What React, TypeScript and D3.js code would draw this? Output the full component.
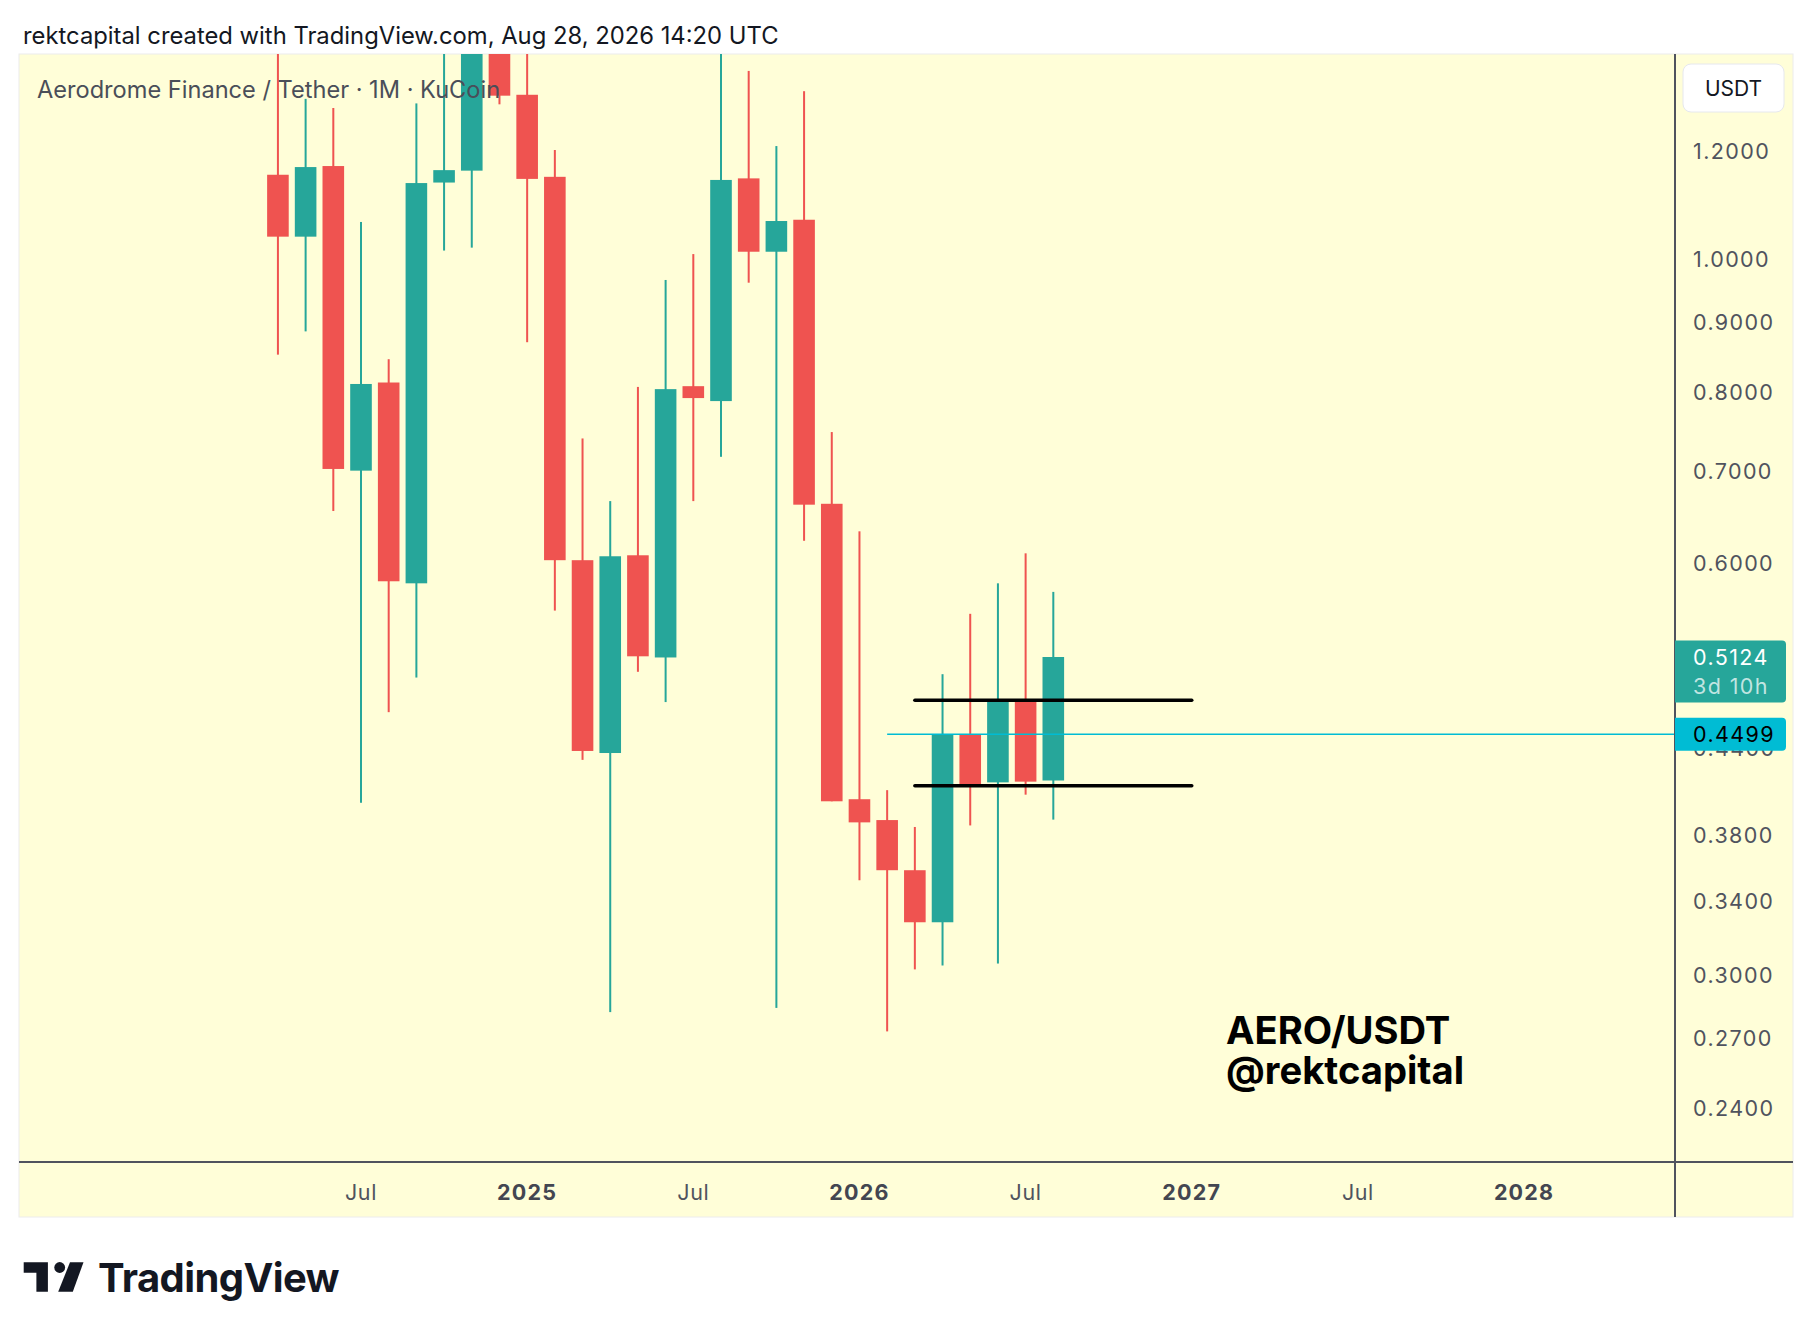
import React from "react";
import * as d3 from "d3";

// ---- DATA (monthly candles, AERO/USDT, KuCoin) ----
const months = [
  "2024-04", "2024-05", "2024-06", "2024-07", "2024-08", "2024-09", "2024-10", "2024-11", "2024-12",
  "2025-01", "2025-02", "2025-03", "2025-04", "2025-05", "2025-06", "2025-07", "2025-08", "2025-09",
  "2025-10", "2025-11", "2025-12", "2026-01", "2026-02", "2026-03", "2026-04", "2026-05", "2026-06",
  "2026-07", "2026-08",
];
const opens = [
  1.153, 1.039, 1.17, 0.701, 0.813, 0.58, 1.138, 1.161, 1.55,
  1.319, 1.149, 0.603, 0.436, 0.608, 0.512, 0.808, 0.788, 1.146,
  1.013, 1.069, 0.663, 0.4034, 0.3895, 0.358, 0.328, 0.4499, 0.415,
  0.4765, 0.4163,
];
const highs = [
  1.8, 1.31, 1.29, 1.065, 0.8455, 1.3, 1.5, 1.75, 2.0,
  1.6, 1.202, 0.74, 0.666, 0.807, 0.966, 1.009, 1.48, 1.373,
  1.21, 1.327, 0.748, 0.633, 0.4096, 0.385, 0.4978, 0.551, 0.58,
  0.61, 0.5717,
];
const lows = [
  0.852, 0.886, 0.655, 0.401, 0.467, 0.495, 1.015, 1.02, 1.298,
  0.87, 0.554, 0.431, 0.282, 0.4998, 0.475, 0.666, 0.7175, 0.9616,
  0.284, 0.623, 0.402, 0.352, 0.273, 0.303, 0.305, 0.386, 0.306,
  0.4065, 0.3898,
];
const closes = [
  1.039, 1.168, 0.703, 0.811, 0.582, 1.137, 1.162, 1.55, 1.317,
  1.145, 0.603, 0.4375, 0.607, 0.513, 0.804, 0.792, 1.143, 1.013,
  1.0667, 0.662, 0.402, 0.388, 0.358, 0.328, 0.4497, 0.4127, 0.4765,
  0.4155, 0.5124,
];

const priceTicks = [1.2, 1.0, 0.9, 0.8, 0.7, 0.6, 0.44, 0.38, 0.34, 0.3, 0.27, 0.24];
const timeTickMonths = ["2024-07", "2025-01", "2025-07", "2026-01", "2026-07", "2027-01", "2027-07", "2028-01"];
const timeTickLabels = ["Jul", "2025", "Jul", "2026", "Jul", "2027", "Jul", "2028"];
const timeTickBold = [false, true, false, true, false, true, false, true];

const rangeLevels = [0.4765, 0.4127];
const rangeStart = "2026-03";
const rangeEnd = "2027-01";
const rayLevel = 0.4499;
const rayStart = "2026-02";
const lastPrice = 0.5124;
const countdown = "3d 10h";

const headerText = "rektcapital created with TradingView.com, Aug 28, 2026 14:20 UTC";
const titleText = "Aerodrome Finance / Tether · 1M · KuCoin";

const UP = "#26a69a";
const DOWN = "#ef5350";
const BG = "#fffed8";
const FONT = 'Inter, "Noto Sans", Roboto, sans-serif';

const barIndex = (m: string) => {
  const [yy, mm] = m.split("-").map(Number);
  return (yy - 2024) * 12 + (mm - 4);
};

export default function App() {
  const W = 1814;
  const H = 1338;
  const left = 19;
  const right = 1675;
  const top = 54;
  const bottom = 1162;
  const bgRight = 1793;
  const bgBottom = 1217;

  const x = d3.scaleLinear().domain([-9.35, 50.45]).range([left, right]);
  const y = d3.scaleLog().domain([1.2, 0.24]).range([151, 1108]);
  const step = x(1) - x(0);
  const bodyW = step * 0.78;

  const fmt = d3.format(".4f");

  const candles = months.map((m, i) => ({
    i: barIndex(m),
    o: opens[i],
    h: highs[i],
    l: lows[i],
    c: closes[i],
  }));

  return (
    <svg
      width={W}
      height={H}
      viewBox={`0 0 ${W} ${H}`}
      style={{ position: "absolute", left: 0, top: 0, display: "block", background: "#ffffff" }}
      fontFamily={FONT}
    >
      <defs>
        <clipPath id="plotClip">
          <rect x={left} y={top} width={right - left} height={bottom - top} />
        </clipPath>
      </defs>
      <rect x={0} y={0} width={W} height={H} fill="#ffffff" />
      {/* header */}
      <text x={23} y={35} fontSize={23.8} fill="#131722" dominantBaseline="central">
        {headerText}
      </text>

      {/* chart background */}
      <rect x={left} y={top} width={bgRight - left} height={bgBottom - top} fill={BG} stroke="#ececec" strokeWidth={1} />

      {/* candles */}
      <g clipPath="url(#plotClip)">
        {candles.map((d, k) => {
          const cx = x(d.i);
          const up = d.c >= d.o;
          const col = up ? UP : DOWN;
          const yTop = y(Math.max(d.o, d.c));
          const yBot = y(Math.min(d.o, d.c));
          return (
            <g key={k}>
              <rect x={cx - 1} y={y(d.h)} width={2} height={y(d.l) - y(d.h)} fill={col} />
              <rect x={cx - bodyW / 2} y={yTop} width={bodyW} height={Math.max(1, yBot - yTop)} fill={col} />
            </g>
          );
        })}

        {/* horizontal ray (cyan) */}
        <line
          x1={x(barIndex(rayStart))}
          x2={right}
          y1={y(rayLevel)}
          y2={y(rayLevel)}
          stroke="#00bcd4"
          strokeWidth={1.5}
        />

        {/* range lines */}
        {rangeLevels.map((lv, k) => (
          <line
            key={k}
            x1={x(barIndex(rangeStart))}
            x2={x(barIndex(rangeEnd))}
            y1={y(lv)}
            y2={y(lv)}
            stroke="#000000"
            strokeWidth={3.5}
            strokeLinecap="round"
          />
        ))}
      </g>

      {/* legend title */}
      <text x={37} y={89} fontSize={23.6} fill="#4a4e59" dominantBaseline="central">
        {titleText}
      </text>

      {/* watermark text */}
      <text x={1226} y={1044} fontSize={38.2} fontWeight={700} fill="#000000">
        AERO/USDT
      </text>
      <text x={1226} y={1084} fontSize={38.2} fontWeight={700} fill="#000000">
        @rektcapital
      </text>

      {/* axes lines */}
      <line x1={left} x2={bgRight} y1={bottom} y2={bottom} stroke="#50535e" strokeWidth={2} />
      <line x1={right} x2={right} y1={top} y2={bgBottom} stroke="#50535e" strokeWidth={2} />

      {/* price ticks */}
      {priceTicks.map((p, k) => (
        <text
          key={k}
          x={1693}
          y={y(p)}
          fontSize={21.5}
          letterSpacing={1.4}
          fill="#50535e"
          dominantBaseline="central"
        >
          {fmt(p)}
        </text>
      ))}

      {/* USDT button */}
      <rect x={1683} y={64} width={101} height={48} rx={8} fill="#ffffff" stroke="#e6e8ee" strokeWidth={1} />
      <text x={1733.5} y={88} fontSize={21} fill="#131722" textAnchor="middle" dominantBaseline="central">
        USDT
      </text>

      {/* last price label */}
      <path
        d={`M${right},${y(lastPrice) - 16.5} h107 a4,4 0 0 1 4,4 v54 a4,4 0 0 1 -4,4 h-107 z`}
        fill={UP}
      />
      <text x={1693} y={y(lastPrice)} fontSize={21.5} letterSpacing={1.4} fill="#ffffff" dominantBaseline="central">
        {fmt(lastPrice)}
      </text>
      <text
        x={1693}
        y={y(lastPrice) + 28.5}
        fontSize={21.5}
        letterSpacing={1.4}
        fill="rgba(255,255,255,0.72)"
        dominantBaseline="central"
      >
        {countdown}
      </text>

      {/* ray price label */}
      <path
        d={`M${right},${y(rayLevel) - 16.5} h107 a4,4 0 0 1 4,4 v25 a4,4 0 0 1 -4,4 h-107 z`}
        fill="#00bcd4"
      />
      <text x={1693} y={y(rayLevel)} fontSize={21.5} letterSpacing={1.4} fill="#000000" dominantBaseline="central">
        {fmt(rayLevel)}
      </text>

      {/* time ticks */}
      {timeTickMonths.map((m, k) => (
        <text
          key={k}
          x={x(barIndex(m))}
          y={1192}
          fontSize={21.5}
          fontWeight={timeTickBold[k] ? 700 : 400}
          letterSpacing={timeTickBold[k] ? 1.2 : 0.6}
          fill={timeTickBold[k] ? "#434651" : "#50535e"}
          textAnchor="middle"
          dominantBaseline="central"
        >
          {timeTickLabels[k]}
        </text>
      ))}

      {/* TradingView logo */}
      <g fill="#131722">
        <polygon points="23.7,1262.3 47.9,1262.3 47.9,1291.7 36.4,1291.7 36.4,1272.7 23.7,1272.7" />
        <circle cx={59.7} cy={1267.5} r={5.4} />
        <polygon points="70,1262.3 83.5,1262.3 72.8,1291.7 58.2,1291.7" />
        <text x={98} y={1291.7} fontSize={40} fontWeight={700} letterSpacing={-0.6}>
          TradingView
        </text>
      </g>
    </svg>
  );
}
